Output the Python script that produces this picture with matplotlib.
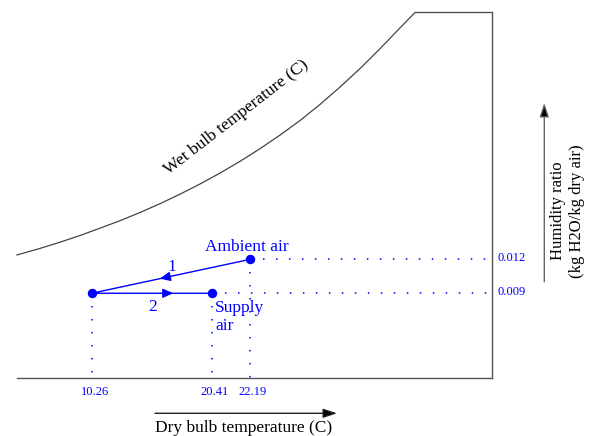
import numpy as np
import matplotlib
matplotlib.use('Agg')
import matplotlib.pyplot as plt
from matplotlib.patches import FancyArrowPatch
from matplotlib.transforms import IdentityTransform
from matplotlib.ticker import NullLocator

plt.rcParams['font.family'] = ['Liberation Serif', 'DejaVu Serif']

# ---------------- data ----------------
TICK_T = [10.26, 20.41, 22.19]          # dry bulb temperatures (C)
TICK_W = [0.012, 0.009]                 # humidity ratios
STATE_T = [22.19, 10.26, 20.41]         # ambient -> cooled -> supply
STATE_W = [0.012, 0.009, 0.009]
PROCESS_LABELS = ['1', '2']
AMBIENT_LABEL = 'Ambient air'
SUPPLY_LINES = ['Supply', 'air']

# saturation (wet bulb) boundary of the chart
CURVE_T = [3.94, 5.89, 7.58, 9.27, 10.96, 12.65, 14.35, 16.04, 17.73, 19.42,
           20.80, 21.73, 23.04, 24.73, 26.42, 28.11, 29.80, 31.50, 33.19,
           34.88, 36.15, 42.66]
CURVE_W = [0.01239, 0.01297, 0.01352, 0.01411, 0.01476, 0.01542, 0.01615,
           0.01693, 0.01777, 0.01867, 0.01964, 0.02068, 0.02180, 0.02300,
           0.02429, 0.02571, 0.02725, 0.02889, 0.03065, 0.03249, 0.03385,
           0.03385]

X_LIM = (3.94, 42.66)
Y_LIM = (0.0015, 0.03385)
STRETCH = 1.82   # schematic (not-to-scale) stretch between supply and ambient temps


def make_scale(a, b, s):
    lo, hi = -1e4, 1e4
    t_k = [lo, a, b, hi]
    u_k = [lo, a, a + s * (b - a), hi + (s - 1) * (b - a)]

    def fwd(t):
        return np.interp(t, t_k, u_k)

    def inv(u):
        return np.interp(u, u_k, t_k)
    return fwd, inv


W, H = 590, 436
fig = plt.figure(figsize=(W / 100, H / 100), dpi=100)
ax = fig.add_axes([17 / W, 58 / H, 475 / W, 365.5 / H])
ax.set_xscale('function', functions=make_scale(TICK_T[1], TICK_T[2], STRETCH))
ax.set_xlim(*X_LIM)
ax.set_ylim(*Y_LIM)
for s in ['top', 'left']:
    ax.spines[s].set_visible(False)
for s in ['bottom', 'right']:
    ax.spines[s].set_color('#555555')
    ax.spines[s].set_linewidth(1.0)
ax.xaxis.set_major_locator(NullLocator())
ax.xaxis.set_minor_locator(NullLocator())
ax.yaxis.set_major_locator(NullLocator())
ax.yaxis.set_minor_locator(NullLocator())
ax.patch.set_visible(False)

blue = '#0000ff'
dot = (0, (1, 7.5))

# boundary curve
ax.plot(CURVE_T, CURVE_W, color='#444444', lw=0.9, clip_on=False,
        solid_joinstyle='round')

# dotted guide lines
for t, w in zip(STATE_T, STATE_W):
    ax.plot([t, t], [w, Y_LIM[0]], ls=dot, color=blue, lw=1.1, clip_on=False)
for w in TICK_W:
    t0 = max(t for t, ww in zip(STATE_T, STATE_W) if ww == w)
    ax.plot([t0, X_LIM[1]], [w, w], ls=dot, color=blue, lw=1.1, clip_on=False)

# process path
ax.plot(STATE_T, STATE_W, color=blue, lw=1.0)
ax.plot(STATE_T, STATE_W, 'o', ms=5.8, color=blue, ls='none')

# arrowheads and process labels
fracs = [0.57, 0.68]
label_off = [(0.7, 7.0), (0.7, -9.6)]
inv = ax.transData.inverted()
for i in range(2):
    p0 = ax.transData.transform((STATE_T[i], STATE_W[i]))
    p1 = ax.transData.transform((STATE_T[i + 1], STATE_W[i + 1]))
    d = p1 - p0
    u = d / np.hypot(*d)
    tip = p0 + fracs[i] * d
    tail = tip - u * 9
    ax.annotate('', xy=inv.transform(tip), xytext=inv.transform(tail),
                arrowprops=dict(arrowstyle='-|>,head_length=0.45,head_width=0.2',
                                color=blue, lw=1.0, shrinkA=0, shrinkB=0,
                                mutation_scale=14))
    mid = inv.transform(p0 + 0.5 * d)
    ax.annotate(PROCESS_LABELS[i], xy=mid, xytext=label_off[i],
                textcoords='offset points', ha='center', va='center',
                color=blue, fontsize=12.5)

# state labels
ax.annotate(AMBIENT_LABEL, xy=(STATE_T[0], STATE_W[0]), xytext=(-2.2, 6.0),
            textcoords='offset points', ha='center', va='baseline',
            color=blue, fontsize=12.5)
for k, line in enumerate(SUPPLY_LINES):
    ax.annotate(line, xy=(STATE_T[2], STATE_W[2]), xytext=(2.4, -13.2 - 13.2 * k),
                textcoords='offset points', ha='left', va='baseline',
                color=blue, fontsize=12.5)

# value labels
for t in TICK_T:
    ax.annotate(f'{t:.2f}', xy=(t, 0), xycoords=('data', 'axes fraction'),
                xytext=(2.2, -10), textcoords='offset points',
                ha='center', va='center', color=blue, fontsize=9)
for w in TICK_W:
    ax.annotate(f'{w:.3f}', xy=(1, w), xycoords=('axes fraction', 'data'),
                xytext=(3.6, 0.8), textcoords='offset points',
                ha='left', va='center', color=blue, fontsize=9)

# axis arrows (figure pixels)
def fig_arrow(xa, ya, xb, yb, ec):
    a = FancyArrowPatch((xa, H - ya), (xb, H - yb), transform=IdentityTransform(),
                        arrowstyle='-|>,head_length=0.6,head_width=0.2',
                        mutation_scale=14, fc='black', ec=ec, lw=1.0,
                        shrinkA=0, shrinkB=0)
    fig.add_artist(a)

fig_arrow(544.3, 281.7, 544.3, 103, '#666666')
fig_arrow(155, 413.3, 337, 413.3, '#222222')

fig.text(243.5 / W, 4 / H, 'Dry bulb temperature (C)', ha='center', va='baseline',
         fontsize=12.5)
fig.text(567.5 / W, (H - 211) / H, 'Humidity ratio\n(kg H2O/kg dry air)', rotation=90,
         ha='center', va='center', multialignment='center', fontsize=12)
fig.text(236 / W, (H - 117) / H, 'Wet bulb temperature (C)', rotation=37.7,
         rotation_mode='anchor', ha='center', va='center', fontsize=12.5)

fig.savefig('out.png', dpi=100)
